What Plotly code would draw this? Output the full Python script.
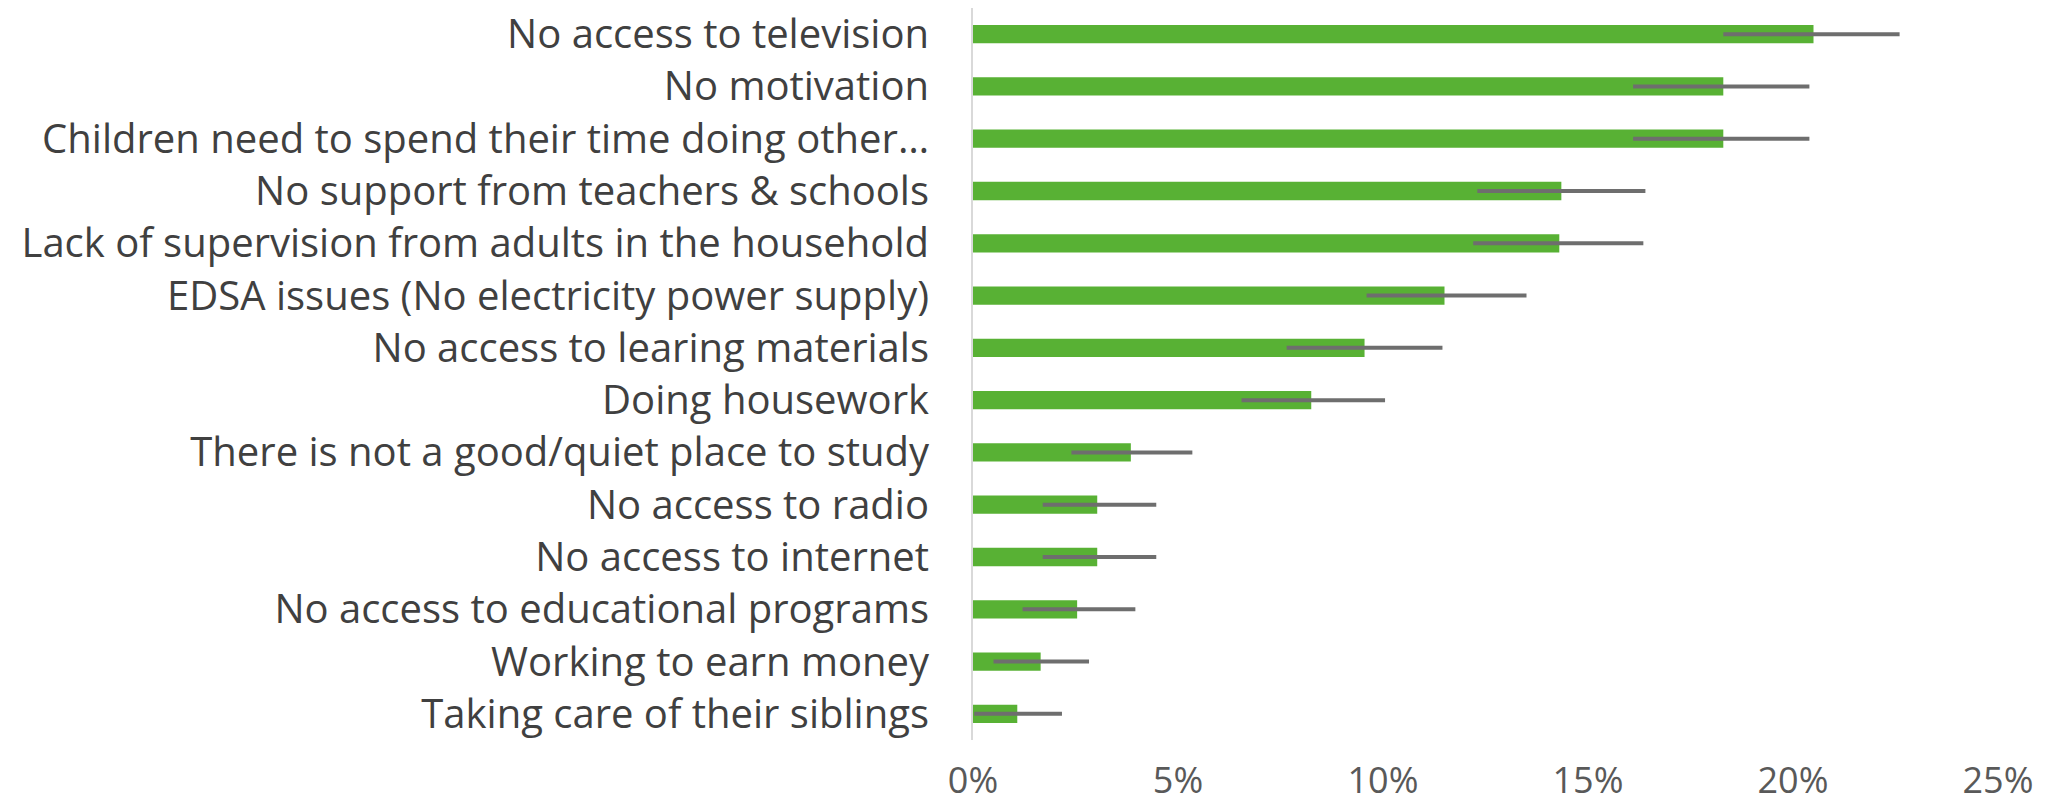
import plotly.graph_objects as go

categories = [
    "No access to television",
    "No motivation",
    "Children need to spend their time doing other…",
    "No support from teachers & schools",
    "Lack of supervision from adults in the household",
    "EDSA issues (No electricity power supply)",
    "No access to learing materials",
    "Doing housework",
    "There is not a good/quiet place to study",
    "No access to radio",
    "No access to internet",
    "No access to educational programs",
    "Working to earn money",
    "Taking care of their siblings",
]
values = [20.5, 18.3, 18.3, 14.35, 14.3, 11.5, 9.55, 8.25, 3.85, 3.03, 3.03, 2.54, 1.65, 1.08]
err_plus = [2.1, 2.1, 2.1, 2.05, 2.05, 2.0, 1.9, 1.8, 1.5, 1.44, 1.44, 1.42, 1.18, 1.09]
err_minus = [2.2, 2.2, 2.2, 2.05, 2.1, 1.9, 1.9, 1.7, 1.45, 1.33, 1.33, 1.33, 1.15, 1.05]
x_ticks = [0, 5, 10, 15, 20, 25]
x_tick_labels = ["0%", "5%", "10%", "15%", "20%", "25%"]

fig = go.Figure()
fig.add_trace(go.Bar(
    y=categories,
    x=values,
    orientation="h",
    width=0.35,
    marker=dict(color="#58b134", line=dict(width=0)),
    error_x=dict(
        type="data",
        symmetric=False,
        array=err_plus,
        arrayminus=err_minus,
        color="#6e6e6e",
        thickness=4,
        width=0,
    ),
    hoverinfo="skip",
))

fig.update_layout(
    width=2051,
    height=806,
    margin=dict(l=973, r=53, t=8, b=66, autoexpand=False),
    paper_bgcolor="white",
    plot_bgcolor="white",
    showlegend=False,
    font=dict(family="Open Sans", color="#404040"),
    xaxis=dict(
        range=[0, 25],
        tickvals=x_ticks,
        ticktext=x_tick_labels,
        showgrid=False,
        zeroline=False,
        showline=False,
        ticks="",
        automargin=False,
        tickfont=dict(size=36, color="#595959"),
        ticklabelstandoff=16,
    ),
    yaxis=dict(
        autorange="reversed",
        showgrid=False,
        zeroline=False,
        showline=True,
        linecolor="#d9d9d9",
        linewidth=2,
        ticks="",
        automargin=False,
        tickfont=dict(size=40, color="#404040"),
        ticklabelstandoff=34,
    ),
)

fig.write_html(
    "out.html",
    config={"displayModeBar": False},
    post_script="document.body.style.margin='0';document.body.style.overflow='hidden';",
)
